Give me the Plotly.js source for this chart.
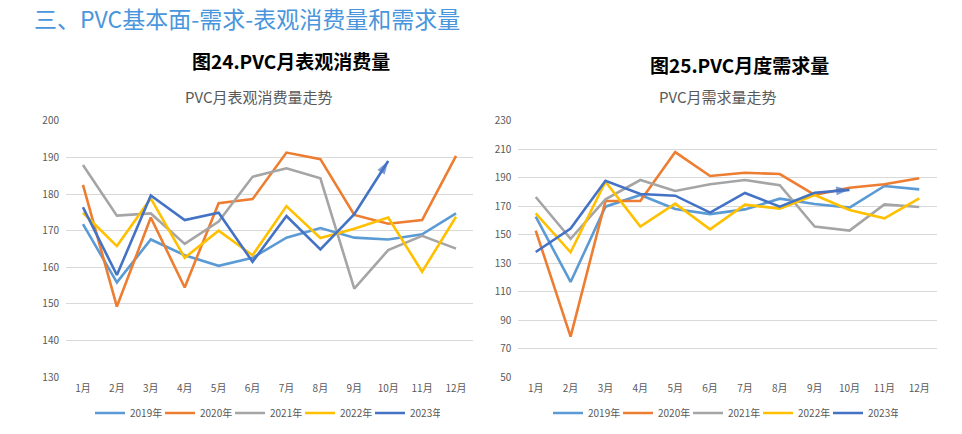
<!DOCTYPE html>
<html>
<head>
<meta charset="utf-8">
<script src="https://cdn.plot.ly/plotly-3.0.1.min.js"></script>
<style>
html,body{margin:0;padding:0;background:#fff;}
#chart{width:962px;height:434px;}
</style>
</head>
<body>
<div id="chart"></div>
<script>
const months = ["1月","2月","3月","4月","5月","6月","7月","8月","9月","10月","11月","12月"];
const seriesNames = ["2019年","2020年","2021年","2022年","2023年"];
const seriesColors = ["#5B9BD5","#ED7D31","#A5A5A5","#FFC000","#4472C4"];

// 图24 PVC月表观消费量
const cons2019 = [171.8,155.9,167.6,163.3,160.4,162.6,168.1,170.7,168.1,167.6,169.0,174.7];
const cons2020 = [182.5,149.3,173.6,154.5,177.5,178.6,191.3,189.5,174.3,171.9,172.9,190.4];
const cons2021 = [187.9,174.1,174.7,166.4,172.5,184.7,187.0,184.3,154.2,164.7,168.6,165.1];
const cons2022 = [174.9,165.8,178.8,162.6,170.0,163.3,176.7,168.0,170.5,173.6,158.8,173.8];
const cons2023 = [176.4,157.9,179.6,172.9,174.9,161.5,174.0,164.9,174.5,189.0];

// 图25 PVC月度需求量
const dem2019 = [162.7,116.9,169.7,177.9,168.1,164.5,167.8,175.3,171.6,169.0,184.2,181.8];
const dem2020 = [152.9,78.5,173.7,173.7,208.0,191.2,193.5,192.6,177.9,183.0,185.4,189.6];
const dem2021 = [176.5,147.2,174.8,188.4,180.7,185.4,188.4,184.7,155.7,152.9,171.3,169.5];
const dem2022 = [165.0,137.7,187.2,155.7,171.8,153.8,171.1,168.3,177.9,167.4,161.5,175.5];
const dem2023 = [137.9,154.3,187.9,178.6,177.4,165.5,179.3,169.7,179.5,181.5];

const leftData = [cons2019,cons2020,cons2021,cons2022,cons2023];
const rightData = [dem2019,dem2020,dem2021,dem2022,dem2023];

const FONT = "'Noto Sans CJK SC','Noto Sans',sans-serif";
const traces = [];
function addSeries(dataArr, xa, ya, legendName){
  dataArr.forEach((vals,i)=>{
    traces.push({
      type:'scatter', mode:'lines',
      x: months.slice(0, vals.length), y: vals,
      xaxis: xa, yaxis: ya,
      name: seriesNames[i], legend: legendName,
      line:{color: seriesColors[i], width:2.6},
      hoverinfo:'skip'
    });
  });
  // arrow head on last 2023 point
  const last = dataArr[4];
  const n = last.length;
  traces.push({
    type:'scatter', mode:'markers',
    x: months.slice(n-2, n), y: last.slice(n-2, n),
    xaxis: xa, yaxis: ya, showlegend:false, legend: legendName,
    marker:{symbol:'arrow', angleref:'previous', size:[0,14], color: seriesColors[4], line:{width:0}},
    hoverinfo:'skip'
  });
}
addSeries(leftData,'x','y','legend');
addSeries(rightData,'x2','y2','legend2');

const yDom = [1-377.3/434, 1-120.7/434];
const axisCommon = {
  showline:false, zeroline:false, ticks:'',
  gridcolor:'#D9D9D9', gridwidth:1,
  tickfont:{family:FONT, size:10, color:'#595959'}
};
const legendCommon = {orientation:'h', xanchor:'left', yanchor:'middle',
  font:{family:FONT,size:10,color:'#595959'}, entrywidth:25, entrywidthmode:'pixels',
  bgcolor:'rgba(0,0,0,0)', tracegroupgap:0};
const layout = {
  width:962, height:434,
  margin:{l:0,r:0,t:0,b:0,autoexpand:false},
  paper_bgcolor:'#fff', plot_bgcolor:'#fff',
  showlegend:true,
  font:{family:FONT},
  xaxis: Object.assign({}, axisCommon, {domain:[66/962, 473/962], anchor:'y', type:'category', categoryorder:'array', categoryarray:months, range:[-0.5,11.5], showgrid:false, ticklabelstandoff:4}),
  yaxis: Object.assign({}, axisCommon, {domain:yDom, anchor:'x', range:[130,200], dtick:10, tick0:130, ticklabelstandoff:6}),
  xaxis2: Object.assign({}, axisCommon, {domain:[518.3/962, 936.7/962], anchor:'y2', type:'category', categoryorder:'array', categoryarray:months, range:[-0.5,11.5], showgrid:false, ticklabelstandoff:4}),
  yaxis2: Object.assign({}, axisCommon, {domain:yDom, anchor:'x2', range:[50,230], dtick:20, tick0:50, ticklabelstandoff:6}),
  legend: Object.assign({}, legendCommon, {x:90/962, y:1-413/434}),
  legend2: Object.assign({}, legendCommon, {x:548/962, y:1-413/434}),
  annotations:[
    {xref:'paper', yref:'paper', x:33/962, y:1-18/434, xanchor:'left', yanchor:'middle', showarrow:false, borderpad:0,
     text:'三、PVC基本面-需求-表观消费量和需求量', font:{family:FONT, size:23, color:'#4A96DC'}},
    {xref:'paper', yref:'paper', x:291/962, y:1-60/434, xanchor:'center', yanchor:'middle', showarrow:false,
     text:'<b>图24.PVC月表观消费量</b>', font:{family:FONT, size:19, color:'#000'}},
    {xref:'paper', yref:'paper', x:739/962, y:1-65/434, xanchor:'center', yanchor:'middle', showarrow:false,
     text:'<b>图25.PVC月度需求量</b>', font:{family:FONT, size:19, color:'#000'}},
    {xref:'paper', yref:'paper', x:259/962, y:1-97/434, xanchor:'center', yanchor:'middle', showarrow:false,
     text:'PVC月表观消费量走势', font:{family:FONT, size:15, color:'#595959'}},
    {xref:'paper', yref:'paper', x:717.5/962, y:1-97/434, xanchor:'center', yanchor:'middle', showarrow:false,
     text:'PVC月需求量走势', font:{family:FONT, size:15, color:'#595959'}}
  ]
};
Plotly.newPlot('chart', traces, layout, {displayModeBar:false, staticPlot:true});
</script>
</body>
</html>
